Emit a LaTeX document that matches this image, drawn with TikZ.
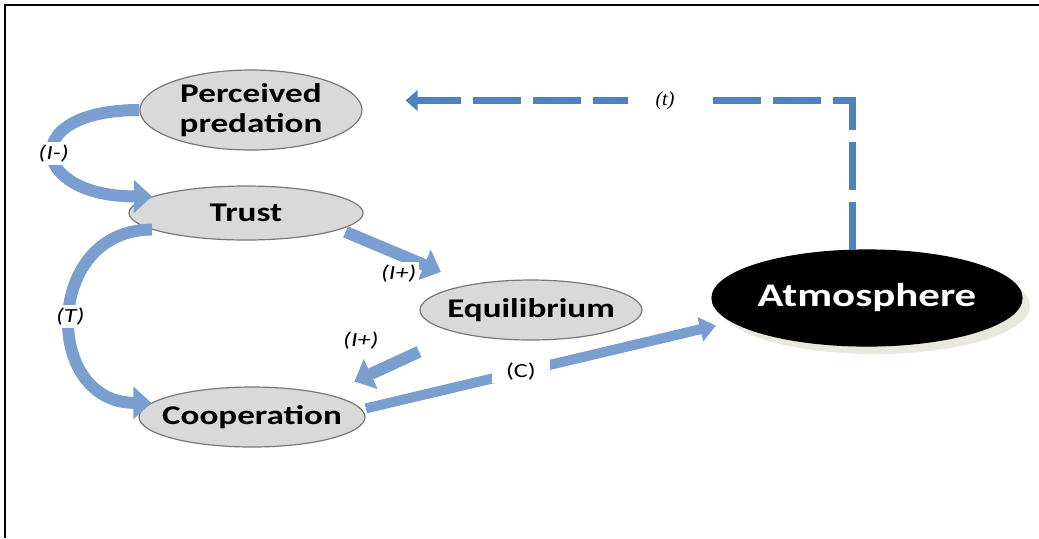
\documentclass[tikz,border=0pt]{standalone}
\usepackage{fontspec}
\setmainfont{Carlito}[FakeStretch=1.3]
\newfontfamily\tagserif{Liberation Serif}
\usetikzlibrary{arrows.meta,shapes.geometric,shadows}
\definecolor{flowblue}{RGB}{122,158,207}
\definecolor{dashblue}{RGB}{79,129,189}
\definecolor{nodegray}{RGB}{217,217,217}
\definecolor{nodeedge}{RGB}{120,120,120}

\begin{document}
\begin{tikzpicture}[x=0.5pt,y=-0.5pt,
  state/.style={ellipse,draw=nodeedge,fill=nodegray,line width=0.6pt,inner sep=0pt,
                align=center,font=\bfseries\fontsize{13.5}{15}\selectfont},
  flow/.style={draw=flowblue,line width=6pt,-{Triangle[length=9pt,width=16pt]}},
  thinflow/.style={draw=flowblue,line width=5pt,-{Triangle[length=8pt,width=12pt]}},
  dashflow/.style={draw=dashblue,line width=3.5pt,dash pattern=on 24pt off 6pt,
                   -{Triangle[length=6pt,width=10pt]}},
  tag/.style={fill=white,inner sep=1.5pt,font=\itshape\fontsize{10}{12}\selectfont}]
 \useasboundingbox (0,0) rectangle (1039,538);
 \draw[line width=1.2pt] (5,538) -- (5,5) -- (1039,5);

 \node[state,minimum width=111pt,minimum height=40pt] (pp) at (251,110) {Perceived\\predation};
 \node[state,minimum width=117pt,minimum height=27pt] (trust) at (246,213) {Trust};
 \node[state,minimum width=111pt,minimum height=30pt,inner xsep=-3pt] (eq) at (531,310) {Equilibrium};
 \node[state,minimum width=113pt,minimum height=30pt,inner xsep=-5pt] (coop) at (252,417) {Cooperation};
 \node[state,draw=black,fill=black,text=white,font=\bfseries\fontsize{16.5}{18}\selectfont,
       minimum width=155pt,minimum height=48pt,
       drop shadow={shadow xshift=4pt,shadow yshift=-4pt,fill=olive!50!gray,opacity=0.2}]
       (atm) at (867,298) {Atmosphere};

 \draw[flow] (pp.west) to[out=180,in=180,looseness=3.6] node[tag]{(I-)} (trust.170);
 \draw[flow] (trust.190) to[out=180,in=180,looseness=1.6] node[tag]{(T)} (coop.172);
 \draw[flow,shorten <=3pt,shorten >=16pt] (trust.-10) --
       node[tag,pos=0.45,below=1pt]{(I+)} (eq.157);
 \draw[flow,shorten <=22pt,shorten >=15pt] (eq.198) --
       node[pos=0.5,above left=1pt,font=\itshape\fontsize{10}{12}\selectfont]{(I+)} (coop.17);
 \draw[thinflow,shorten <=2pt,shorten >=8pt] (coop.4) --
       node[tag,pos=0.43,inner xsep=7pt,font=\fontsize{10}{12}\selectfont]{(C)} (atm.190);
 \draw[dashflow,shorten >=23pt] (atm.107) |-
       node[pos=0.69,tag,inner xsep=14pt,font=\tagserif\itshape\fontsize{10}{12}\selectfont]{(t)} (pp.5);
\end{tikzpicture}
\end{document}
